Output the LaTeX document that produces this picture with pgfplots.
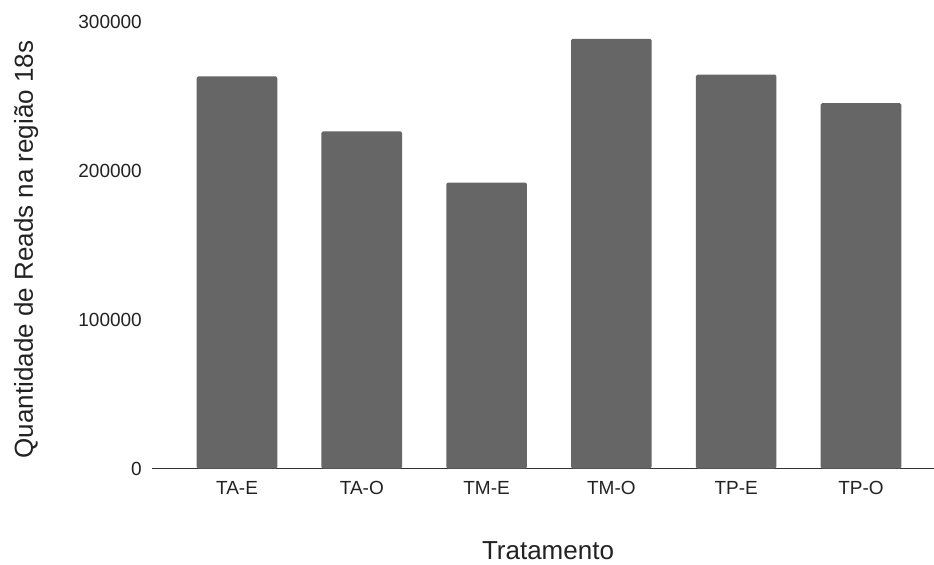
\documentclass[border=0pt]{standalone}
\usepackage{fontspec}
\setmainfont{Liberation Sans}
\usepackage{pgfplots}
\pgfplotsset{compat=1.18}
\definecolor{barfill}{HTML}{666666}
\definecolor{axisline}{HTML}{333333}
\definecolor{labeltext}{HTML}{222222}

\begin{document}
\begin{tikzpicture}
\path[use as bounding box] (-152bp,-96.5bp) rectangle (782bp,468.5bp);
\begin{axis}[
  at={(0,0)}, anchor=south west,
  scale only axis, width=782bp, height=446.8bp,
  xmin=-0.681, xmax=5.585, ymin=0, ymax=300000,
  ybar, bar width=80.6bp,
  axis lines*=left,
  x axis line style={draw=axisline, line width=1.3bp},
  y axis line style={draw=none},
  major tick length=0pt,
  xtick={0,1,2,3,4,5},
  xticklabels={TA-E,TA-O,TM-E,TM-O,TP-E,TP-O},
  ytick={0,100000,200000,300000},
  yticklabels={0,100000,200000,300000},
  scaled y ticks=false,
  /pgf/number format/assume math mode=true,
  xticklabel style={anchor=base, yshift=-26bp, inner sep=0pt,
    text=labeltext, font=\fontsize{19bp}{19bp}\selectfont},
  yticklabel style={anchor=east, xshift=-10bp, inner sep=0pt,
    text=labeltext, font=\fontsize{19bp}{19bp}\selectfont},
  xlabel={Tratamento},
  ylabel={Quantidade de Reads na região 18s},
  every axis x label/.style={at={(axis description cs:0.5064,0)},
    yshift=-91bp, anchor=base, inner sep=0pt, text=labeltext,
    font=\fontsize{26bp}{26bp}\selectfont},
  every axis y label/.style={at={(axis description cs:0,0.49)},
    xshift=-119bp, rotate=90, anchor=base, inner sep=0pt, text=labeltext,
    font=\fontsize{26bp}{26bp}\selectfont},
  clip=false,
]
\addplot[fill=barfill, draw=none, rounded corners=1.5bp] coordinates {
  (0,263250) (1,226360) (2,191950) (3,288530) (4,264390) (5,245340)
};
\end{axis}
\end{tikzpicture}
\end{document}
